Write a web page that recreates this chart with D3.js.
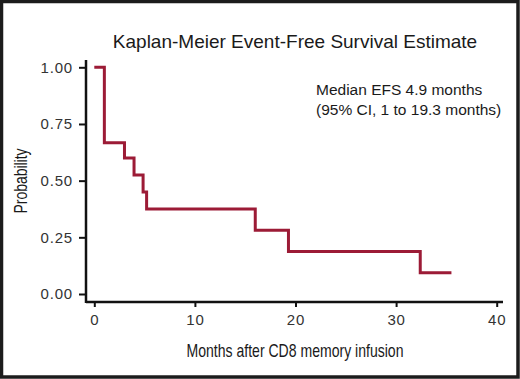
<!DOCTYPE html>
<html>
<head>
<meta charset="utf-8">
<script src="https://cdn.jsdelivr.net/npm/d3@7"></script>
<style>
  html, body { margin: 0; padding: 0; background: #fff; }
  #chartDiv { width: 520px; height: 379px; }
</style>
</head>
<body>
<div id="chartDiv"></div>
<script>
// Kaplan-Meier step data (months, survival probability)
var months = [0, 1.0, 3.0, 3.95, 4.85, 5.2, 16.0, 19.3, 32.4, 35.5];
var survival = [1.0, 0.667, 0.6, 0.525, 0.45, 0.375, 0.281, 0.1875, 0.094, 0.094];
var xTicks = [0, 10, 20, 30, 40];
var yTicks = [0, 0.25, 0.5, 0.75, 1.0];

var W = 520, H = 379;
var sansFont = "'Liberation Sans', Arial, Helvetica, sans-serif";

var svg = d3.select("#chartDiv")
  .append("svg")
  .attr("width", W)
  .attr("height", H);

// outer frame
svg.append("rect")
  .attr("x", 1.5).attr("y", 1.5)
  .attr("width", W - 3.5).attr("height", H - 3.5)
  .attr("fill", "#fff")
  .attr("stroke", "#1c1c1c")
  .attr("stroke-width", 3.5);

// scales
var x = d3.scaleLinear().domain([0, 40]).range([94.3, 496.7]);
var y = d3.scaleLinear().domain([0, 1]).range([294, 67.3]);

// title
svg.append("text")
  .attr("x", 295).attr("y", 48)
  .attr("text-anchor", "middle")
  .style("font-family", sansFont)
  .style("font-size", "19px")
  .attr("fill", "#1a1a1a")
  .text("Kaplan-Meier Event-Free Survival Estimate");

// axes
var xAxis = svg.append("g")
  .attr("transform", "translate(0,302)")
  .call(d3.axisBottom(x).tickValues(xTicks).tickSize(5).tickPadding(7).tickSizeOuter(0));

var yAxis = svg.append("g")
  .attr("transform", "translate(86,0)")
  .call(d3.axisLeft(y).tickValues(yTicks).tickSize(7).tickPadding(6)
    .tickFormat(d3.format(".2f")).tickSizeOuter(0));

// extend the axis lines to meet at the corner like the original
xAxis.select(".domain").attr("d", "M86,0H503");
yAxis.select(".domain").attr("d", "M0,60V303");

[xAxis, yAxis].forEach(function(g) {
  g.select(".domain").attr("stroke", "#111").attr("stroke-width", 2.5);
  g.selectAll(".tick line").attr("stroke", "#111").attr("stroke-width", 2);
  g.selectAll(".tick text")
    .style("font-family", sansFont)
    .style("font-size", "15px")
    .style("letter-spacing", "0.8px")
    .attr("fill", "#333");
});

// axis titles (condensed face, squeezed to the original width)
svg.append("text")
  .attr("x", 295).attr("y", 357)
  .attr("text-anchor", "middle")
  .attr("textLength", 217)
  .attr("lengthAdjust", "spacingAndGlyphs")
  .style("font-family", sansFont)
  .style("font-size", "18.5px")
  .attr("fill", "#1a1a1a")
  .text("Months after CD8 memory infusion");

svg.append("text")
  .attr("transform", "translate(27,181) rotate(-90)")
  .attr("text-anchor", "middle")
  .attr("textLength", 65)
  .attr("lengthAdjust", "spacingAndGlyphs")
  .style("font-family", sansFont)
  .style("font-size", "17.5px")
  .attr("fill", "#1a1a1a")
  .text("Probability");

// survival curve
var data = months.map(function(m, i) { return {m: m, s: survival[i]}; });
var line = d3.line()
  .x(function(d) { return x(d.m); })
  .y(function(d) { return y(d.s); })
  .curve(d3.curveStepAfter);

svg.append("path")
  .attr("d", line(data))
  .attr("fill", "none")
  .attr("stroke", "#9c1b36")
  .attr("stroke-width", 3)
  .attr("stroke-linejoin", "miter")
  .attr("stroke-linecap", "butt");

// annotation
var note = svg.append("text")
  .style("font-family", sansFont)
  .style("font-size", "15.5px")
  .attr("fill", "#1a1a1a");
note.append("tspan").attr("x", 316).attr("y", 95).text("Median EFS 4.9 months");
note.append("tspan").attr("x", 316).attr("y", 114.5).text("(95% CI, 1 to 19.3 months)");
</script>
</body>
</html>
